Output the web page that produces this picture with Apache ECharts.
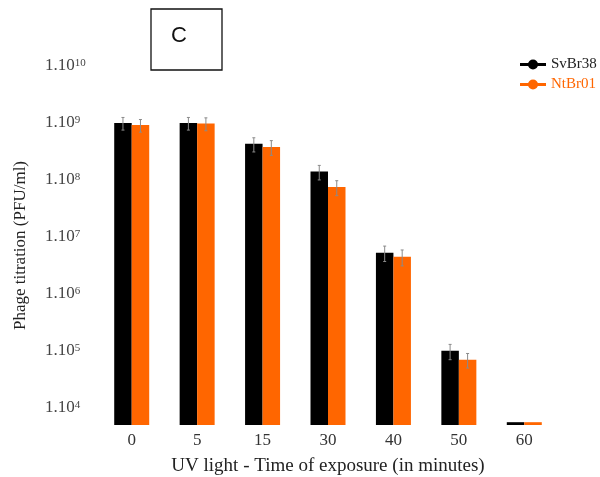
<!DOCTYPE html>
<html>
<head>
<meta charset="utf-8">
<script src="https://cdn.jsdelivr.net/npm/echarts@6/dist/echarts.min.js"></script>
<style>
  html, body { margin: 0; padding: 0; background: #fff; }
  #chart { width: 600px; height: 477px; }
</style>
</head>
<body>
<div id="chart"></div>
<script>
// exposure times (minutes)
const times = ['0', '5', '15', '30', '40', '50', '60']
// phage titres, PFU/ml
const svbr38 = [1.0e9, 1.0e9, 4.3e8, 1.4e8, 5.3e6, 1.0e5, 5.6e3]
const ntbr01 = [9.2e8, 9.8e8, 3.8e8, 7.5e7, 4.5e6, 7.0e4, 5.6e3]
// +/- error
const svbr38Err = [2.5e8, 2.5e8, 1.2e8, 4.0e7, 1.6e6, 3.0e4, 0]
const ntbr01Err = [2.3e8, 2.5e8, 1.1e8, 2.2e7, 1.4e6, 2.0e4, 0]
// y ticks shown as 1.10^n
const yMin = 5000
const yMax = 1e10

const serif = '"Liberation Serif", "DejaVu Serif", serif'
const black = '#000000'
const orange = '#ff6600'
const legendIcon = 'path://M0,3.5H26V6.5H0Z M8,5A5,5 0 1 1 18,5A5,5 0 1 1 8,5Z'

function errorBars(vals, errs, side) {
  return {
    type: 'custom',
    silent: true,
    z: 5,
    data: vals.map((v, i) => [i, v - errs[i], v + errs[i], errs[i]]),
    renderItem(params, api) {
      if (!api.value(3)) return null
      const i = api.value(0)
      const hi = api.coord([i, api.value(2)])
      const lo = api.coord([i, api.value(1)])
      const x = hi[0] + side * 8.75
      const style = { stroke: '#8a8a8a', lineWidth: 1 }
      return {
        type: 'group',
        children: [
          { type: 'line', shape: { x1: x, y1: hi[1], x2: x, y2: lo[1] }, style },
          { type: 'line', shape: { x1: x - 1.5, y1: hi[1], x2: x + 1.5, y2: hi[1] }, style },
          { type: 'line', shape: { x1: x - 1.5, y1: lo[1], x2: x + 1.5, y2: lo[1] }, style }
        ]
      }
    }
  }
}

const chart = echarts.init(document.getElementById('chart'))
chart.setOption({
  animation: false,
  backgroundColor: '#fff',
  grid: { left: 99, right: 43, top: 66, bottom: 52, outerBoundsMode: 'none' },
  legend: {
    orient: 'vertical',
    left: 515,
    top: 52,
    itemWidth: 26,
    itemHeight: 10,
    itemGap: 5,
    textStyle: { fontFamily: serif, fontSize: 15 },
    data: [
      { name: 'SvBr38', icon: legendIcon, textStyle: { color: '#222' } },
      { name: 'NtBr01', icon: legendIcon, textStyle: { color: orange } }
    ]
  },
  graphic: [
    {
      type: 'rect',
      shape: { x: 151, y: 9, width: 71, height: 61 },
      style: { fill: 'none', stroke: '#111', lineWidth: 1.3 }
    },
    {
      type: 'text',
      x: 179,
      y: 36,
      style: {
        text: 'C',
        fontFamily: '"Liberation Sans", Arial, sans-serif',
        fontSize: 22,
        fill: '#111',
        align: 'center',
        verticalAlign: 'middle'
      }
    }
  ],
  xAxis: {
    type: 'category',
    data: times,
    name: 'UV light - Time of exposure (in minutes)',
    nameLocation: 'middle',
    nameGap: 32,
    nameTextStyle: { fontFamily: serif, fontSize: 19, color: '#222' },
    axisLine: { show: false },
    axisTick: { show: false },
    axisLabel: { fontFamily: serif, fontSize: 17, color: '#333', margin: 7 }
  },
  yAxis: {
    type: 'log',
    logBase: 10,
    min: yMin,
    max: yMax,
    startValue: yMin,
    name: 'Phage titration (PFU/ml)',
    nameLocation: 'middle',
    nameGap: 70,
    nameTextStyle: { fontFamily: serif, fontSize: 17, color: '#222' },
    axisLine: { show: false },
    axisTick: { show: false },
    splitLine: { show: false },
    axisLabel: {
      align: 'left',
      margin: 54,
      showMinLabel: false,
      formatter: v => {
        const e = Math.log10(v)
        if (Math.abs(e - Math.round(e)) > 1e-6) return ''
        return '{b|1.10}{s|' + Math.round(e) + '}'
      },
      rich: {
        b: { fontFamily: serif, fontSize: 17, color: '#444' },
        s: { fontFamily: serif, fontSize: 11, color: '#444', verticalAlign: 'top', padding: [0, 0, 6, 0] }
      }
    }
  },
  series: [
    {
      name: 'SvBr38',
      type: 'bar',
      data: svbr38,
      barWidth: 17.5,
      barGap: '0%',
      clip: true,
      itemStyle: { color: black }
    },
    {
      name: 'NtBr01',
      type: 'bar',
      data: ntbr01,
      barWidth: 17.5,
      barGap: '0%',
      clip: true,
      itemStyle: { color: orange }
    },
    errorBars(svbr38, svbr38Err, -1),
    errorBars(ntbr01, ntbr01Err, 1)
  ]
})
</script>
</body>
</html>
